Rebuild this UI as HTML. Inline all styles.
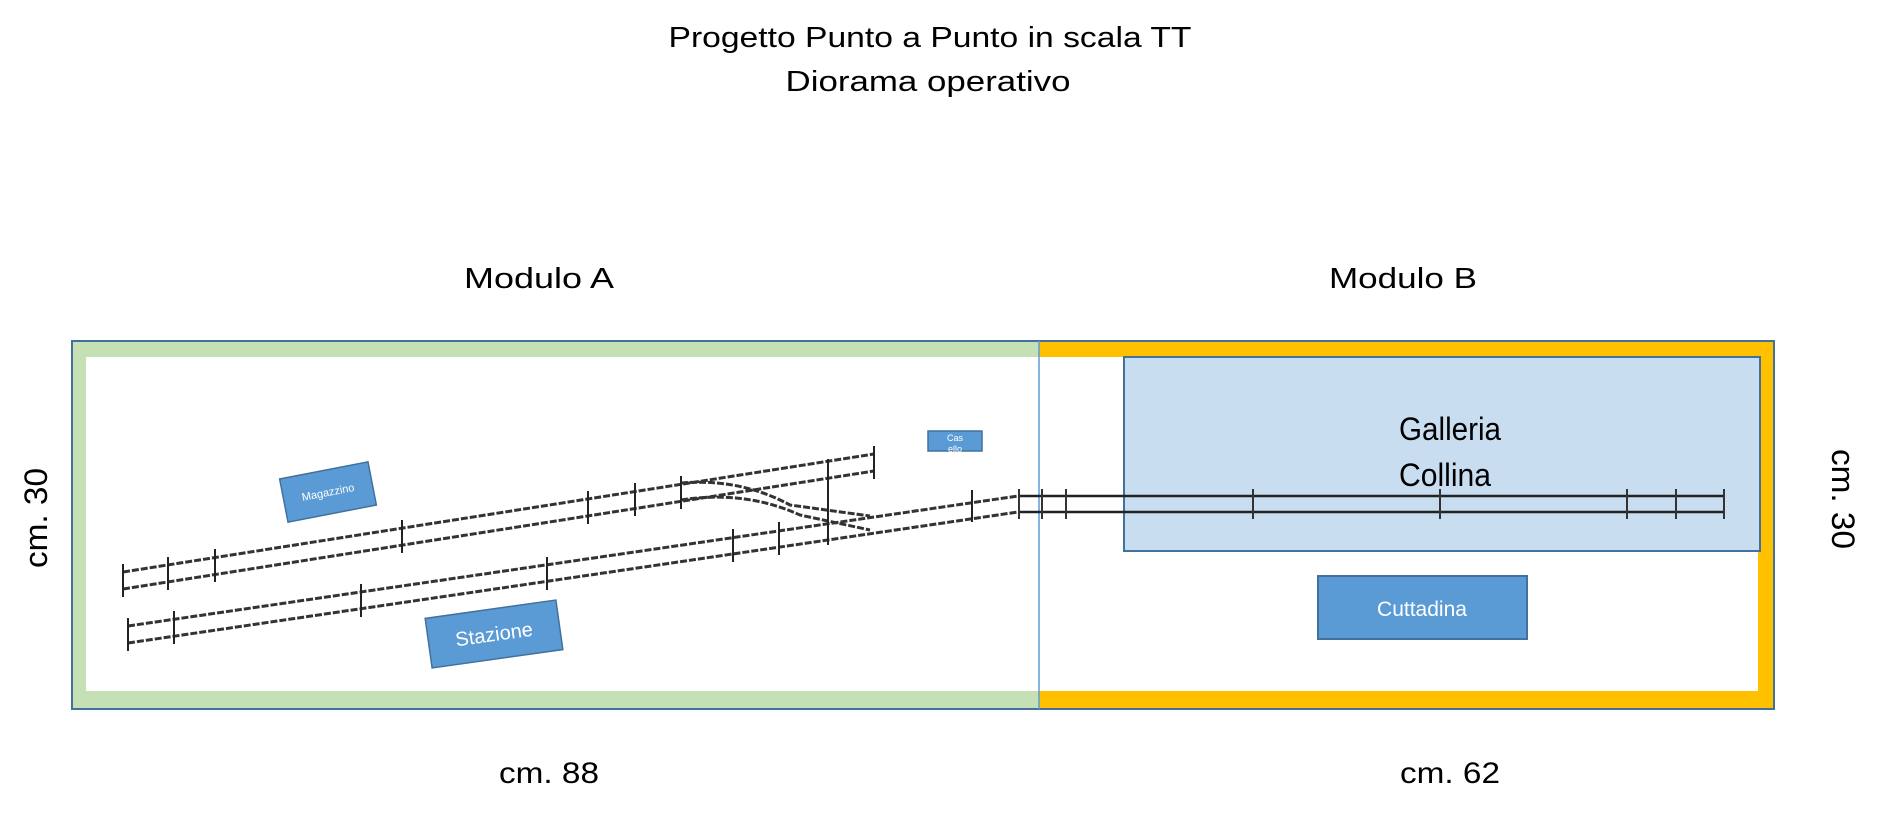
<!DOCTYPE html>
<html><head><meta charset="utf-8"><style>
html,body{margin:0;padding:0;background:#fff;}
svg{display:block;font-family:"Liberation Sans",sans-serif;}
</style></head><body>
<svg width="1881" height="813" viewBox="0 0 1881 813" xmlns="http://www.w3.org/2000/svg">
<text x="930" y="47" font-size="29" text-anchor="middle" textLength="523" lengthAdjust="spacingAndGlyphs">Progetto Punto a Punto in scala TT</text>
<text x="928" y="91" font-size="29" text-anchor="middle" textLength="285" lengthAdjust="spacingAndGlyphs">Diorama operativo</text>
<text x="539" y="288" font-size="29" text-anchor="middle" textLength="150" lengthAdjust="spacingAndGlyphs">Modulo A</text>
<text x="1403" y="288" font-size="29" text-anchor="middle" textLength="148" lengthAdjust="spacingAndGlyphs">Modulo B</text>
<text x="549" y="783" font-size="30" text-anchor="middle" textLength="100" lengthAdjust="spacingAndGlyphs">cm. 88</text>
<text x="1450" y="783" font-size="30" text-anchor="middle" textLength="100" lengthAdjust="spacingAndGlyphs">cm. 62</text>
<text transform="translate(47,518) rotate(-90)" font-size="32" text-anchor="middle" textLength="100" lengthAdjust="spacingAndGlyphs">cm. 30</text>
<text transform="translate(1832,499) rotate(90)" font-size="32" text-anchor="middle" textLength="100" lengthAdjust="spacingAndGlyphs">cm. 30</text>

<rect x="72" y="341" width="967" height="368" fill="#c5e0b4"/>
<rect x="86" y="357" width="953" height="334" fill="#fff"/>
<rect x="1039" y="341" width="735" height="368" fill="#ffc000"/>
<rect x="1039" y="357" width="719" height="334" fill="#fff"/>
<rect x="72" y="341" width="1702" height="368" fill="none" stroke="#41719c" stroke-width="2"/>
<line x1="1039" y1="341" x2="1039" y2="709" stroke="#5b9bd5" stroke-width="1.5"/>

<rect x="1124" y="357" width="636" height="194" fill="#c9ddf1" stroke="#41719c" stroke-width="2"/>
<text x="1450" y="440" font-size="32" text-anchor="middle" textLength="102" lengthAdjust="spacingAndGlyphs">Galleria</text>
<text x="1445" y="486" font-size="32" text-anchor="middle" textLength="92" lengthAdjust="spacingAndGlyphs">Collina</text>

<g stroke="#222" stroke-width="2.5">
<line x1="1018" y1="496" x2="1724" y2="496"/>
<line x1="1018" y1="512" x2="1724" y2="512"/>
</g>
<g stroke="#333" stroke-width="2">
<line x1="1019" y1="489" x2="1019" y2="519"/>
<line x1="1042" y1="489" x2="1042" y2="519"/>
<line x1="1066" y1="489" x2="1066" y2="519"/>
<line x1="1253" y1="489" x2="1253" y2="519"/>
<line x1="1440" y1="489" x2="1440" y2="519"/>
<line x1="1627" y1="489" x2="1627" y2="519"/>
<line x1="1676" y1="489" x2="1676" y2="519"/>
<line x1="1724" y1="489" x2="1724" y2="519"/>
</g>

<g stroke="#333" stroke-width="3" fill="none" stroke-dasharray="7 2">
<line x1="123" y1="572" x2="874" y2="454"/>
<line x1="123" y1="589" x2="874" y2="471"/>
<line x1="128" y1="626" x2="1018" y2="496"/>
<line x1="128" y1="643" x2="1018" y2="512"/>
<path d="M681 483 Q740 478 790 505 L870 516"/>
<path d="M681 500 Q745 490 800 515 L870 530"/>
</g>
<g stroke="#222" stroke-width="2">
<line x1="123" y1="564" x2="123" y2="597"/>
<line x1="168" y1="557" x2="168" y2="590"/>
<line x1="215" y1="549" x2="215" y2="582"/>
<line x1="402" y1="520" x2="402" y2="553"/>
<line x1="588" y1="491" x2="588" y2="524"/>
<line x1="635" y1="483" x2="635" y2="516"/>
<line x1="681" y1="476" x2="681" y2="509"/>
<line x1="874" y1="446" x2="874" y2="479"/>
<line x1="828" y1="459" x2="828" y2="545"/>
<line x1="128" y1="618" x2="128" y2="651"/>
<line x1="174" y1="611" x2="174" y2="644"/>
<line x1="361" y1="584" x2="361" y2="617"/>
<line x1="547" y1="557" x2="547" y2="590"/>
<line x1="733" y1="529" x2="733" y2="562"/>
<line x1="779" y1="522" x2="779" y2="555"/>
<line x1="972" y1="490" x2="972" y2="522"/>
</g>

<g transform="translate(328,492) rotate(-11)">
<rect x="-45" y="-22" width="90" height="44" fill="#5b9bd5" stroke="#41719c" stroke-width="1.5"/>
<text x="0" y="4" font-size="11" fill="#fff" text-anchor="middle">Magazzino</text>
</g>
<g transform="translate(494,634) rotate(-8)">
<rect x="-66" y="-25" width="132" height="50" fill="#5b9bd5" stroke="#41719c" stroke-width="1.5"/>
<text x="0" y="7" font-size="20" fill="#fff" text-anchor="middle">Stazione</text>
</g>
<rect x="928" y="431" width="54" height="20" fill="#5b9bd5" stroke="#41719c" stroke-width="1.5"/>
<text x="955" y="441" font-size="9" fill="#fff" text-anchor="middle">Cas</text>
<text x="955" y="452" font-size="9" fill="#fff" text-anchor="middle">ello</text>
<rect x="1318" y="576" width="209" height="63" fill="#5b9bd5" stroke="#41719c" stroke-width="2"/>
<text x="1422" y="616" font-size="21" fill="#fff" text-anchor="middle">Cuttadina</text>
</svg>
</body></html>
